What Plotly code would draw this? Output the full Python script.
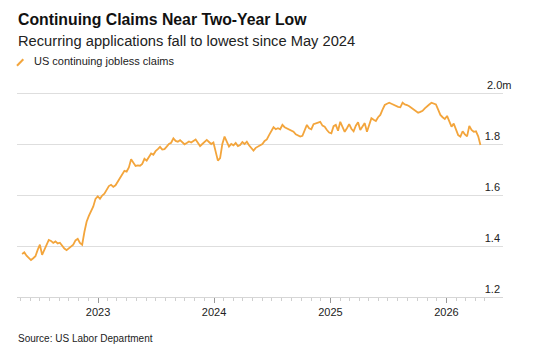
import pandas as pd
import plotly.graph_objects as go

# Weekly US continuing jobless claims (millions)
start_date = "2022-05-07"
claims = [
    1.369, 1.375, 1.362, 1.355, 1.345, 1.352, 1.360, 1.385, 1.405, 1.365,
    1.385, 1.408, 1.424, 1.420, 1.412, 1.418, 1.410, 1.413, 1.400, 1.390,
    1.384, 1.392, 1.398, 1.405, 1.422, 1.428, 1.412, 1.405, 1.455, 1.495,
    1.518, 1.540, 1.555, 1.585, 1.595, 1.585, 1.598, 1.605, 1.618, 1.635,
    1.640, 1.632, 1.638, 1.652, 1.665, 1.680, 1.695, 1.692, 1.708, 1.740,
    1.728, 1.714, 1.716, 1.715, 1.722, 1.742, 1.735, 1.752, 1.763, 1.758,
    1.772, 1.780, 1.789, 1.778, 1.780, 1.790, 1.800, 1.805, 1.822, 1.812,
    1.809, 1.815, 1.805, 1.799, 1.804, 1.810, 1.806, 1.812, 1.818, 1.805,
    1.792, 1.800, 1.810, 1.816, 1.808, 1.800, 1.806, 1.775, 1.735, 1.745,
    1.800, 1.829, 1.812, 1.790, 1.800, 1.795, 1.804, 1.792, 1.796, 1.808,
    1.800, 1.809, 1.795, 1.782, 1.774, 1.785, 1.790, 1.796, 1.800, 1.812,
    1.818, 1.835, 1.848, 1.866, 1.858, 1.862, 1.858, 1.875, 1.866, 1.862,
    1.858, 1.852, 1.848, 1.838, 1.832, 1.829, 1.832, 1.855, 1.875, 1.862,
    1.858, 1.878, 1.881, 1.885, 1.887, 1.872, 1.868, 1.855, 1.845, 1.842,
    1.870, 1.875, 1.852, 1.887, 1.865, 1.848, 1.862, 1.878, 1.860, 1.850,
    1.872, 1.885, 1.855, 1.870, 1.882, 1.848, 1.880, 1.901, 1.895, 1.890,
    1.905, 1.914, 1.935, 1.953, 1.958, 1.962, 1.958, 1.953, 1.950, 1.946,
    1.944, 1.962, 1.955, 1.953, 1.948, 1.942, 1.935, 1.928, 1.923, 1.926,
    1.930, 1.940, 1.949, 1.955, 1.962, 1.958, 1.955, 1.935, 1.914, 1.905,
    1.898, 1.910, 1.885, 1.868, 1.880, 1.860, 1.835, 1.829, 1.850, 1.838,
    1.830, 1.871, 1.855, 1.848, 1.850, 1.830, 1.796,
]
dates = pd.date_range(start_date, periods=len(claims), freq="7D")

y_tickvals = [1.2, 1.4, 1.6, 1.8, 2.0]
y_ticktext = ["1.2", "1.4", "1.6", "1.8", "2.0m"]
x_tickvals = ["2023-01-01", "2024-01-01", "2025-01-01", "2026-01-01"]
x_ticktext = ["2023", "2024", "2025", "2026"]

title = "Continuing Claims Near Two-Year Low"
subtitle = "Recurring applications fall to lowest since May 2024"
series_name = "US continuing jobless claims"
source = "Source: US Labor Department"

ORANGE = "#f3a53c"
FONT = "Liberation Sans, Arial, sans-serif"

fig = go.Figure()
fig.add_trace(go.Scatter(
    x=dates, y=claims, mode="lines", name=series_name,
    line=dict(color=ORANGE, width=1.8), showlegend=False,
))

fig.update_layout(
    width=533, height=354,
    margin=dict(l=17, r=30, t=92, b=57),
    paper_bgcolor="white", plot_bgcolor="white",
    font=dict(family=FONT, color="#222"),
    xaxis=dict(
        range=["2022-04-21", "2026-06-28"],
        tickvals=x_tickvals, ticktext=x_ticktext,
        ticks="outside", ticklen=5, tickcolor="#999", tickwidth=1,
        showline=True, linecolor="#d6d6d6", linewidth=1,
        showgrid=False, zeroline=False,
        tickfont=dict(size=11, color="#222"),
        minor=dict(dtick="M1", ticks="outside", ticklen=3, tickcolor="#cfcfcf", showgrid=False),
    ),
    yaxis=dict(
        range=[1.2, 2.004], side="right",
        tickvals=y_tickvals, ticktext=y_ticktext,
        ticklabelposition="inside top",
        showgrid=True, gridcolor="#dedede", gridwidth=1,
        zeroline=False, showline=False, ticks="",
        tickfont=dict(size=11, color="#222"),
    ),
)

# top tick label (overflows the plot area, so drawn as an annotation on the y axis)
fig.add_annotation(text=y_ticktext[-1], xref="paper", yref="y",
                   x=1.02, y=y_tickvals[-1], xanchor="right", yanchor="bottom",
                   showarrow=False, yshift=0, font=dict(size=11, color="#222", family=FONT))

fig.add_annotation(text="<b>" + title + "</b>", xref="paper", yref="paper",
                   x=-0.002, y=1.355, xanchor="left", yanchor="middle",
                   showarrow=False, font=dict(size=15.8, color="#111", family=FONT))
fig.add_annotation(text=subtitle, xref="paper", yref="paper",
                   x=-0.002, y=1.25, xanchor="left", yanchor="middle",
                   showarrow=False, font=dict(size=14.7, color="#222", family=FONT))
fig.add_annotation(text=series_name, xref="paper", yref="paper",
                   x=0.03, y=1.15, xanchor="left", yanchor="middle",
                   showarrow=False, font=dict(size=11, color="#222", family=FONT))
fig.add_shape(type="line", xref="paper", yref="paper",
              x0=0.0, y0=1.128, x1=0.013, y1=1.16,
              line=dict(color=ORANGE, width=2))
fig.add_annotation(text=source, xref="paper", yref="paper",
                   x=-0.002, y=-0.2, xanchor="left", yanchor="middle",
                   showarrow=False, font=dict(size=10, color="#222", family=FONT))

fig.write_html("out.html")
